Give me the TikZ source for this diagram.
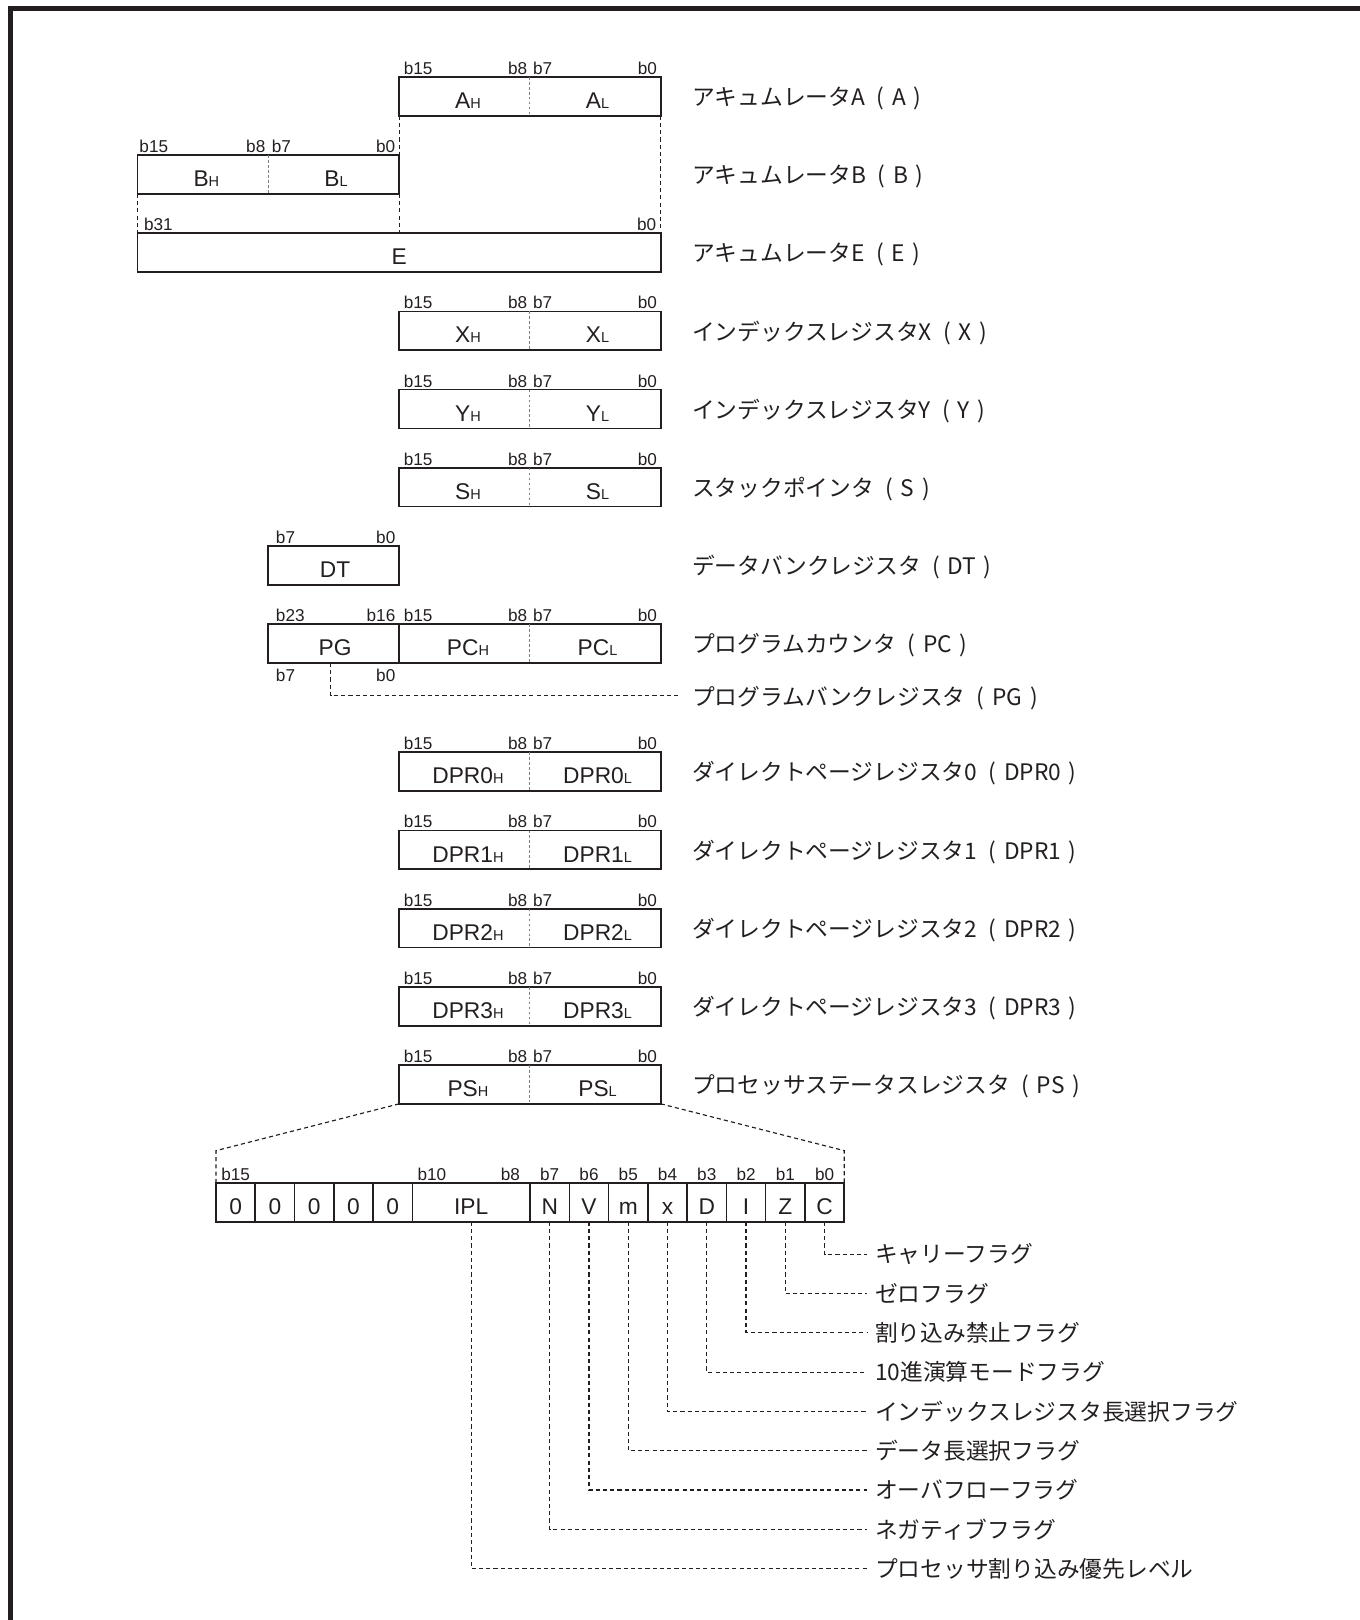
\documentclass[tikz,border=0pt]{standalone}
\usepackage{fontspec}
\setmainfont{Liberation Sans}
\newfontfamily\jp{Noto Sans CJK JP}
\definecolor{ink}{HTML}{231F20}
\newcommand\subf{\fontsize{7}{8}\selectfont}
\newcommand\pp[1]{\hspace{0.5em}(\hspace{0.34em}#1\hspace{0.34em})}
\tikzset{
  regbox/.style={draw=ink, line width=0.85pt},
  cellsep/.style={draw=ink, line width=0.75pt},
  middash/.style={draw=gray, line width=0.45pt, dash pattern=on 1.3pt off 1.1pt},
  guide/.style={draw=ink, line width=0.55pt, dash pattern=on 2pt off 1.5pt},
  bitl/.style={font=\fontsize{8.3}{9}\selectfont, inner sep=0pt, text=ink},
  rtxt/.style={font=\fontsize{11}{12}\selectfont, inner sep=0pt, anchor=base, text=ink},
  jlab/.style={font=\jp\fontsize{11}{13}\selectfont, anchor=west, inner sep=0pt, text=ink},
}
% 16-bit register at columns 386..639
\newcommand\RegW[5]{%
  \coordinate (#1tl) at (386,#2);
  \coordinate (#1br) at (639,{#2+37.5});
  \coordinate (#1mt) at (512.5,#2);
  \coordinate (#1mb) at (512.5,{#2+37.5});
  \draw[regbox] (#1tl) rectangle (#1br);
  \draw[middash] (#1mt) -- (#1mb);
  \node[bitl, anchor=base west] (#1b15) at (390.2,{#2-2.5}) {b15};
  \node[bitl, anchor=base east] (#1b8) at (510.2,{#2-2.5}) {b8};
  \node[bitl, anchor=base west] (#1b7) at (515.2,{#2-2.5}) {b7};
  \node[bitl, anchor=base east] (#1b0) at (635.7,{#2-2.5}) {b0};
  \node[rtxt] (#1hi) at (447.5,{#2+30.5}) {#3\rlap{\subf H}};
  \node[rtxt] (#1lo) at (574,{#2+30.5}) {#4\rlap{\subf L}};
  \node[jlab] (#1name) at (669,{#2+20.5}) {#5};
}
\begin{document}
\begin{tikzpicture}[x=0.5pt,y=-0.5pt]
\useasboundingbox (0,0) rectangle (1314.3,1566.7);
% frame
\coordinate (fbl) at (9.85,1600);
\coordinate (fc) at (9.85,8.05);
\coordinate (ftr) at (1340,8.05);
\draw[ink, line width=2.55pt, line join=miter] (fbl) -- (fc) -- (ftr);

% Accumulator A
\RegW{A}{74.4}{A}{A}{アキュムレータA\pp{A}}

% Accumulator B
\coordinate (Btl) at (133,150);
\coordinate (Bbr) at (386,187.5);
\coordinate (Bbl) at (133,187.5);
\coordinate (Btr) at (386,150);
\coordinate (Bmt) at (259.5,150);
\coordinate (Bmb) at (259.5,187.5);
\draw[regbox] (Btl) rectangle (Bbr);
\draw[middash] (Bmt) -- (Bmb);
\node[bitl, anchor=base west] (Bb15) at (134.5,147.5) {b15};
\node[bitl, anchor=base east] (Bb8) at (257,147.5) {b8};
\node[bitl, anchor=base west] (Bb7) at (262.5,147.5) {b7};
\node[bitl, anchor=base east] (Bb0) at (382.5,147.5) {b0};
\node[rtxt] (Bhi) at (194.5,180.5) {B\rlap{\subf H}};
\node[rtxt] (Blo) at (321,180.5) {B\rlap{\subf L}};
\node[jlab] (Bname) at (669,170.5) {アキュムレータB\pp{B}};

% Accumulator E
\coordinate (Etl) at (133,225.6);
\coordinate (Ebr) at (639,263.1);
\coordinate (Etm) at (386,225.6);
\coordinate (Etr) at (639,225.6);
\draw[regbox] (Etl) rectangle (Ebr);
\node[bitl, anchor=base west] (Eb31) at (139,223.1) {b31};
\node[bitl, anchor=base east] (Eb0) at (635,223.1) {b0};
\node[rtxt] (Etxt) at (386,256.1) {E};
\node[jlab] (Ename) at (669,246.1) {アキュムレータE\pp{E}};

% guides between A, B, E
\coordinate (Abl) at (386,111.9);
\draw[guide] (Abl) -- (Btr);
\draw[guide] (Bbr) -- (Etm);
\draw[guide] (Abr) -- (Etr);
\draw[guide] (Bbl) -- (Etl);

\RegW{X}{301.2}{X}{X}{インデックスレジスタX\pp{X}}
\RegW{Y}{376.8}{Y}{Y}{インデックスレジスタY\pp{Y}}
\RegW{S}{452.4}{S}{S}{スタックポインタ\pp{S}}

% DT
\coordinate (DTtl) at (259.5,528);
\coordinate (DTbr) at (386,565.5);
\draw[regbox] (DTtl) rectangle (DTbr);
\node[bitl, anchor=base west] (DTb7) at (266.5,525.5) {b7};
\node[bitl, anchor=base east] (DTb0) at (382.7,525.5) {b0};
\node[rtxt] (DTtxt) at (324,558.5) {DT};
\node[jlab] (DTname) at (669,548.5) {データバンクレジスタ\pp{DT}};

% PC / PG
\coordinate (PCtl) at (259.5,603.6);
\coordinate (PCbr) at (639,641.1);
\coordinate (PCst) at (386,603.6);
\coordinate (PCsb) at (386,641.1);
\coordinate (PCmt) at (512.5,603.6);
\coordinate (PCmb) at (512.5,641.1);
\draw[regbox] (PCtl) rectangle (PCbr);
\draw[regbox] (PCst) -- (PCsb);
\draw[middash] (PCmt) -- (PCmb);
\node[bitl, anchor=base west] (PCb23) at (266.5,601.1) {b23};
\node[bitl, anchor=base east] (PCb16) at (382.7,601.1) {b16};
\node[bitl, anchor=base west] (PCb15) at (390.2,601.1) {b15};
\node[bitl, anchor=base east] (PCb8) at (510.2,601.1) {b8};
\node[bitl, anchor=base west] (PCb7) at (515.2,601.1) {b7};
\node[bitl, anchor=base east] (PCb0) at (635.7,601.1) {b0};
\node[rtxt] (PGtxt) at (324,634.1) {PG};
\node[rtxt] (PChi) at (447.5,634.1) {PC\rlap{\subf H}};
\node[rtxt] (PClo) at (574,634.1) {PC\rlap{\subf L}};
\node[jlab] (PCname) at (669,624.1) {プログラムカウンタ\pp{PC}};
\node[bitl, anchor=base west] (PGb7) at (266.5,659.5) {b7};
\node[bitl, anchor=base east] (PGb0) at (382.7,659.5) {b0};
\node[jlab] (PGname) at (669,675) {プログラムバンクレジスタ\pp{PG}};
\coordinate (PGtap) at (319.8,641.1);
\coordinate (PGend) at (657,673);
\draw[guide] (PGtap) |- (PGend);

\RegW{DPRa}{727.6}{DPR0}{DPR0}{ダイレクトページレジスタ0\pp{DPR0}}
\RegW{DPRb}{803.2}{DPR1}{DPR1}{ダイレクトページレジスタ1\pp{DPR1}}
\RegW{DPRc}{878.8}{DPR2}{DPR2}{ダイレクトページレジスタ2\pp{DPR2}}
\RegW{DPRd}{954.4}{DPR3}{DPR3}{ダイレクトページレジスタ3\pp{DPR3}}
\RegW{PS}{1030}{PS}{PS}{プロセッサステータスレジスタ\pp{PS}}

% expansion of PS
\coordinate (PSbl) at (386,1067.5);
\coordinate (PSbr2) at (639,1067.5);
\coordinate (XL) at (208.9,1112.8);
\coordinate (XR) at (816.5,1112.8);
\coordinate (FL) at (208.9,1143.8);
\coordinate (FR) at (816.5,1143.8);
\draw[guide] (PSbl) -- (XL) -- (FL);
\draw[guide] (PSbr2) -- (XR) -- (FR);

% flag register
\def\fL{208.9}
\def\fw{37.97}
\def\fT{1143.8}
\def\fB{1181.5}
\coordinate (Ftl) at (\fL,\fT);
\coordinate (Fbr) at ({\fL+16*\fw},\fB);
\draw[regbox] (Ftl) rectangle (Fbr);
\foreach \k in {1,2,3,4,5,8,9,10,11,12,13,14,15}{
  \coordinate (Fs\k t) at ({\fL+\k*\fw},\fT);
  \coordinate (Fs\k b) at ({\fL+\k*\fw},\fB);
  \draw[cellsep] (Fs\k t) -- (Fs\k b);
}
\foreach \k in {0,...,4}{
  \node[rtxt] (Fz\k) at ({\fL+(\k+0.5)*\fw},{\fB-7}) {0};
}
\node[rtxt] (Fipl) at ({\fL+6.5*\fw},{\fB-7}) {IPL};
\foreach \t [count=\j from 0] in {N,V,m,x,D,I,Z,C}{
  \node[rtxt] (Ff\j) at ({\fL+(8.5+\j)*\fw},{\fB-7}) {\t};
}
% bit labels
\node[bitl, anchor=base] (Fb15) at ({\fL+0.5*\fw},{\fT-2.5}) {b15};
\node[bitl, anchor=base] (Fb10) at ({\fL+5.5*\fw},{\fT-2.5}) {b10};
\node[bitl, anchor=base] (Fb8) at ({\fL+7.5*\fw},{\fT-2.5}) {b8};
\foreach \b [count=\j from 0] in {7,6,5,4,3,2,1,0}{
  \node[bitl, anchor=base] (Fbit\b) at ({\fL+(8.5+\j)*\fw},{\fT-2.5}) {b\b};
}
% flag descriptions
\foreach \c/\y/\txt [count=\n] in {
  15.5/1213/キャリーフラグ,
  14.5/1251/ゼロフラグ,
  13.5/1289/割り込み禁止フラグ,
  12.5/1327/10進演算モードフラグ,
  11.5/1365/インデックスレジスタ長選択フラグ,
  10.5/1403/データ長選択フラグ,
  9.5/1441/オーバフローフラグ,
  8.5/1479/ネガティブフラグ,
  6.5/1517/プロセッサ割り込み優先レベル}{
  \coordinate (Ftap\n) at ({\fL+\c*\fw},\fB);
  \coordinate (Fend\n) at (838.5,\y);
  \node[jlab] (Fname\n) at (846,\y) {\txt};
  \draw[guide] (Ftap\n) |- (Fend\n);
}
\end{tikzpicture}
\end{document}
